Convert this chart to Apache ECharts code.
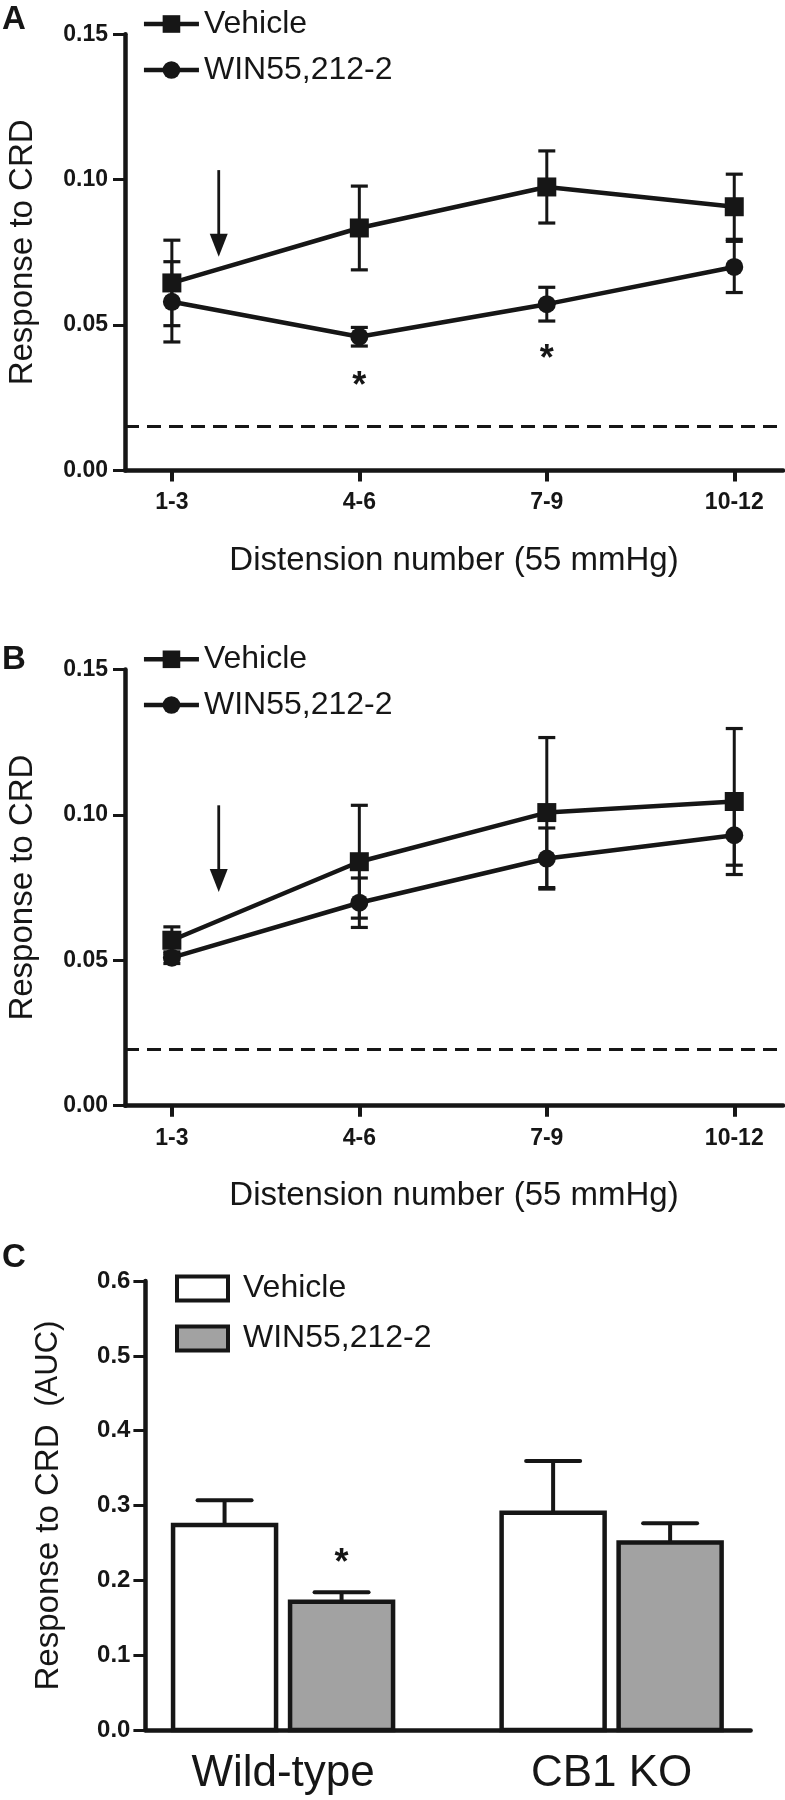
<!DOCTYPE html>
<html><head><meta charset="utf-8">
<script src="https://cdn.jsdelivr.net/npm/echarts@6/dist/echarts.min.js"></script>
<style>html,body{margin:0;padding:0;background:#fff}#c{width:785px;height:1800px}</style>
</head><body><div id="c"></div>
<script>
// ---------- data ----------
const categories = ['1-3', '4-6', '7-9', '10-12'];
const xPos = [1, 2, 3, 4];
const yTicksAB = [0, 0.05, 0.10, 0.15];

const vehicleA = [0.0645, 0.0834, 0.0975, 0.0907];
const vehicleSemA = [0.0147, 0.0144, 0.0124, 0.0112];
const winA = [0.0580, 0.0460, 0.0572, 0.0700];
const winSemA = [0.0138, 0.0032, 0.0058, 0.0088];
const baselineA = 0.0151;
const starsA = [[2, 0.0322], [3, 0.0414]];

const vehicleB = [0.0569, 0.0839, 0.1008, 0.1046];
const vehicleSemB = [0.0046, 0.0194, 0.0258, 0.0251];
const winB = [0.0509, 0.0698, 0.0850, 0.0930];
const winSemB = [0.0020, 0.0085, 0.0105, 0.0103];
const baselineB = 0.0194;

const arrowData = [[1.25, 0.1033, 0.0735]]; // x, top, tip

const groups = ['Wild-type', 'CB1 KO'];
const groupPos = [1, 2];
const vehicleAUC = [0.274, 0.2905];
const vehicleAUCSem = [0.033, 0.069];
const winAUC = [0.1714, 0.2507];
const winAUCSem = [0.0126, 0.0255];
const starsC = [[1, 0.235]];

// ---------- styling ----------
const INK = '#161616';
const GREY = '#a2a2a2';
const FONT = "'Liberation Sans', Arial, Helvetica, sans-serif";
const STAR_FS = 36;

function pairs(xs, ys) { return xs.map((x, i) => [x, ys[i]]); }
function triples(xs, ys, es) { return xs.map((x, i) => [x, ys[i], es[i]]); }

function errRender(params, api) {
  const x = api.value(0), m = api.value(1), s = api.value(2);
  const t = api.coord([x, m + s]), b = api.coord([x, m - s]);
  const hw = 8.5;
  return { type: 'group', children: [
    { type: 'line', shape: { x1: t[0], y1: t[1], x2: b[0], y2: b[1] }, style: { stroke: INK, lineWidth: 3 } },
    { type: 'line', shape: { x1: t[0] - hw, y1: t[1], x2: t[0] + hw, y2: t[1] }, style: { stroke: INK, lineWidth: 3.2 } },
    { type: 'line', shape: { x1: b[0] - hw, y1: b[1], x2: b[0] + hw, y2: b[1] }, style: { stroke: INK, lineWidth: 3.2 } }
  ]};
}
function arrowRender(params, api) {
  const x = api.value(0);
  const a = api.coord([x, api.value(1)]), b = api.coord([x, api.value(2)]);
  const hh = 23, hw = 18;
  return { type: 'group', children: [
    { type: 'line', shape: { x1: a[0], y1: a[1], x2: b[0], y2: b[1] - hh + 2 }, style: { stroke: INK, lineWidth: 2.8 } },
    { type: 'polygon', shape: { points: [[b[0] - hw / 2, b[1] - hh], [b[0] + hw / 2, b[1] - hh], [b[0], b[1]]] }, style: { fill: INK } }
  ]};
}
function starRender(dx) {
  return function (params, api) {
    const p = api.coord([api.value(0), api.value(1)]);
    return { type: 'text', x: p[0] + dx, y: p[1] + 0.27 * STAR_FS,
      style: { text: '*', fontSize: STAR_FS, fontWeight: 'bold', fontFamily: FONT, fill: INK, align: 'center', verticalAlign: 'middle' } };
  };
}
const BAR_W = 103, BAR_OFF = 58.5, CAP_HW = 27;
function barRender(sign, fill) {
  return function (params, api) {
    const gx = api.value(0), v = api.value(1), s = api.value(2);
    const top = api.coord([gx, v]), base = api.coord([gx, 0]), cap = api.coord([gx, v + s]);
    const cx = top[0] + sign * BAR_OFF;
    return { type: 'group', children: [
      { type: 'line', shape: { x1: cx, y1: top[1], x2: cx, y2: cap[1] }, style: { stroke: INK, lineWidth: 4 } },
      { type: 'line', shape: { x1: cx - CAP_HW, y1: cap[1], x2: cx + CAP_HW, y2: cap[1] }, style: { stroke: INK, lineWidth: 4, lineCap: 'round' } },
      { type: 'rect', shape: { x: cx - BAR_W / 2, y: top[1], width: BAR_W, height: base[1] - top[1] }, style: { fill: fill, stroke: INK, lineWidth: 4.5 } }
    ]};
  };
}

const tickLabelStyle = { fontSize: 23, fontWeight: 'bold', color: INK, fontFamily: FONT };

function lineXAxis(gi) {
  return { gridIndex: gi, type: 'value', min: 0.75, max: 4.26,
    name: 'Distension number (55 mmHg)', nameLocation: 'middle', nameGap: 74,
    nameTextStyle: { fontSize: 33, color: INK, fontFamily: FONT },
    axisLine: { show: true, onZero: false, lineStyle: { color: INK, width: 4.5 } },
    axisTick: { show: true, customValues: xPos, length: 11, lineStyle: { color: INK, width: 4 } },
    axisLabel: Object.assign({ customValues: xPos, margin: 21, formatter: v => categories[Math.round(v) - 1] }, tickLabelStyle),
    splitLine: { show: false } };
}
function lineYAxis(gi) {
  return { gridIndex: gi, type: 'value', min: 0, max: 0.15, interval: 0.05,
    name: 'Response to CRD', nameLocation: 'middle', nameGap: 86,
    nameTextStyle: { fontSize: 33, color: INK, fontFamily: FONT },
    axisLine: { show: true, onZero: false, lineStyle: { color: INK, width: 4.5 } },
    axisTick: { show: true, length: 12, lineStyle: { color: INK, width: 3 } },
    axisLabel: Object.assign({ margin: 17, formatter: v => v.toFixed(2) }, tickLabelStyle),
    splitLine: { show: false } };
}
function legendLine(name, top) {
  return { left: 141.7, top: top, padding: 0, itemWidth: 55, itemHeight: 22, data: [name],
    selectedMode: false,
    lineStyle: { width: 4.5, color: INK },
    textStyle: { fontSize: 32, lineHeight: 32, color: INK, fontFamily: FONT } };
}
function legendBox(name, label, top, fill) {
  return { left: 175, top: top, padding: 0, itemWidth: 51, itemHeight: 24, selectedMode: false,
    data: [{ name: name, icon: 'rect' }],
    itemStyle: { color: fill, borderColor: INK, borderWidth: 4 },
    formatter: () => label,
    textStyle: { fontSize: 32, lineHeight: 32, color: INK, fontFamily: FONT, padding: [0, 0, 0, 10] } };
}
function dashed(v) {
  return { silent: true, symbol: 'none', precision: 4, label: { show: false }, animation: false,
    lineStyle: { type: [14, 8], width: 3, color: INK }, data: [{ yAxis: v }] };
}
function lineSeries(name, xi, data, symbol, size, mark) {
  const s = { name: name, type: 'line', xAxisIndex: xi, yAxisIndex: xi, data: data,
    symbol: symbol, symbolSize: size, showSymbol: true, z: 5,
    lineStyle: { color: INK, width: 4.5 }, itemStyle: { color: INK } };
  if (mark !== undefined) s.markLine = dashed(mark);
  return s;
}
function customS(xi, data, render, z, name) {
  const s = { type: 'custom', xAxisIndex: xi, yAxisIndex: xi, data: data, renderItem: render, z: z,
    encode: { x: 0, y: 1 }, silent: true };
  if (name) s.name = name;
  return s;
}

const option = {
  animation: false,
  backgroundColor: '#fff',
  textStyle: { fontFamily: FONT },
  title: [
    { text: 'A', left: 2, top: 3, padding: 0, textStyle: { fontSize: 33, fontWeight: 'bold', color: INK, fontFamily: FONT } },
    { text: 'B', left: 2, top: 643, padding: 0, textStyle: { fontSize: 33, fontWeight: 'bold', color: INK, fontFamily: FONT } },
    { text: 'C', left: 2, top: 1241, padding: 0, textStyle: { fontSize: 33, fontWeight: 'bold', color: INK, fontFamily: FONT } }
  ],
  legend: [
    legendLine('Vehicle', 8), legendLine('WIN55,212-2', 54),
    legendLine('Vehicle', 643.3), legendLine('WIN55,212-2', 689),
    legendBox('Vehicle AUC', 'Vehicle', 1272.6, '#ffffff'),
    legendBox('WIN55,212-2 AUC', 'WIN55,212-2', 1322.4, GREY)
  ],
  grid: [
    { left: 125, top: 34.3, width: 658, height: 436.2, outerBoundsMode: 'none' },
    { left: 125, top: 669.5, width: 658, height: 436.2, outerBoundsMode: 'none' },
    { left: 145.4, top: 1281.1, width: 605.2, height: 448.9, outerBoundsMode: 'none' }
  ],
  xAxis: [
    lineXAxis(0), lineXAxis(1),
    { gridIndex: 2, type: 'value', min: 0.581, max: 2.423,
      axisLine: { show: true, onZero: false, lineStyle: { color: INK, width: 4.5 } },
      axisTick: { show: false },
      axisLabel: { customValues: groupPos, margin: 22, formatter: v => groups[Math.round(v) - 1], fontSize: 44, color: INK, fontFamily: FONT },
      splitLine: { show: false } }
  ],
  yAxis: [
    lineYAxis(0), lineYAxis(1),
    { gridIndex: 2, type: 'value', min: 0, max: 0.6, interval: 0.1,
      name: '{a|Response to CRD }{b| (AUC)}', nameLocation: 'middle', nameGap: 80,
      nameTextStyle: { color: INK, fontFamily: FONT, fontSize: 33,
        rich: { a: { fontSize: 33, color: INK, fontFamily: FONT }, b: { fontSize: 31, color: INK, fontFamily: FONT } } },
      axisLine: { show: true, onZero: false, lineStyle: { color: INK, width: 4.5 } },
      axisTick: { show: true, length: 12, lineStyle: { color: INK, width: 3 } },
      axisLabel: { margin: 15, formatter: v => v.toFixed(1), fontSize: 24, fontWeight: 'bold', color: INK, fontFamily: FONT },
      splitLine: { show: false } }
  ],
  series: [
    // Panel A
    customS(0, triples(xPos, vehicleA, vehicleSemA), errRender, 3),
    customS(0, triples(xPos, winA, winSemA), errRender, 3),
    lineSeries('Vehicle', 0, pairs(xPos, vehicleA), 'rect', 19, baselineA),
    lineSeries('WIN55,212-2', 0, pairs(xPos, winA), 'circle', 18),
    customS(0, arrowData, arrowRender, 4),
    customS(0, starsA, starRender(0), 4),
    // Panel B
    customS(1, triples(xPos, vehicleB, vehicleSemB), errRender, 3),
    customS(1, triples(xPos, winB, winSemB), errRender, 3),
    lineSeries('Vehicle', 1, pairs(xPos, vehicleB), 'rect', 19, baselineB),
    lineSeries('WIN55,212-2', 1, pairs(xPos, winB), 'circle', 18),
    customS(1, arrowData, arrowRender, 4),
    // Panel C
    customS(2, triples(groupPos, vehicleAUC, vehicleAUCSem), barRender(-1, '#ffffff'), 3, 'Vehicle AUC'),
    customS(2, triples(groupPos, winAUC, winAUCSem), barRender(1, GREY), 3, 'WIN55,212-2 AUC'),
    customS(2, starsC, starRender(BAR_OFF), 4)
  ]
};

const chart = echarts.init(document.getElementById('c'), null, { renderer: 'canvas' });
chart.setOption(option);
</script>
</body></html>
